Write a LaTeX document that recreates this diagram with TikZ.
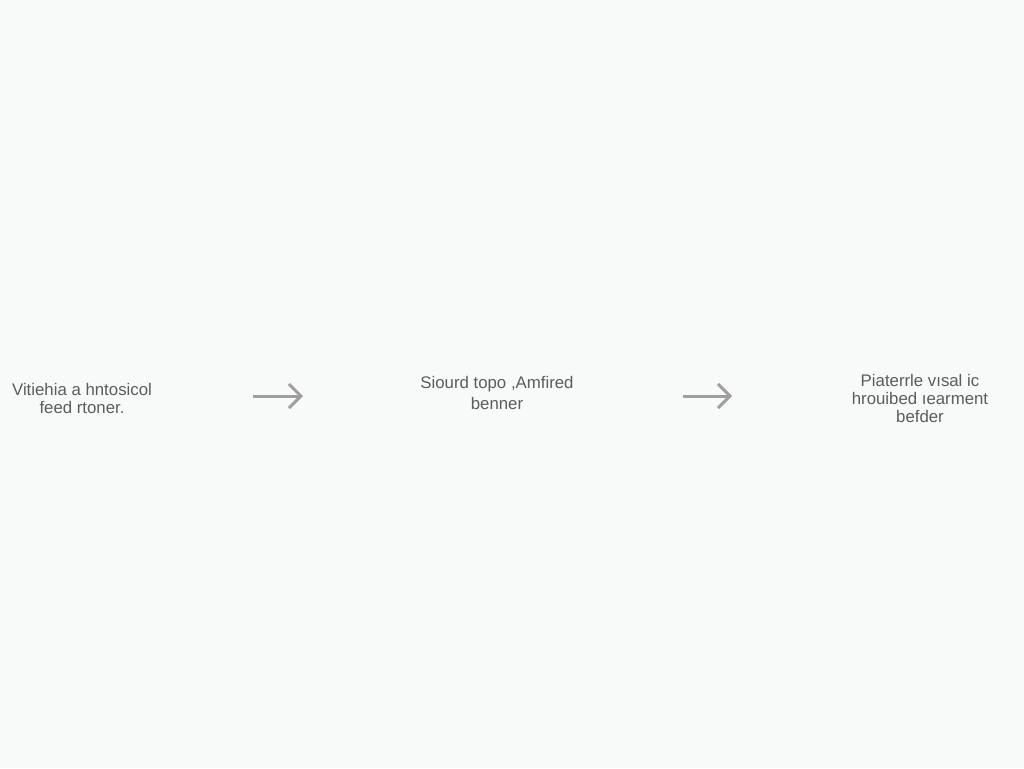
\documentclass[tikz,border=0pt]{standalone}
\usepackage{fontspec}
\setmainfont{Liberation Sans}
\usetikzlibrary{arrows.meta}
\definecolor{canvas}{HTML}{F8F9F9}
\definecolor{inkgray}{HTML}{5C5C5C}
\definecolor{arrowgray}{HTML}{9E9E9E}
\begin{document}
\begin{tikzpicture}[
    x = 1pt,
    y = -1pt,
    stage/.style = {
        text = inkgray,
        font = \fontsize{16.8}{18}\selectfont,
        align = center,
        inner sep = 0pt
    },
    flow/.style = {-{Straight Barb[length=12pt, width=24pt]}, line width = 3pt, draw = arrowgray}
]

% Canvas
\fill[canvas] (0, 0) rectangle (1024, 768);

% Stages
\node[stage] (stage1) at (82, 398) {Vitiehia a hntosicol\\feed rtoner.};
\node[stage] (stage2) at (497, 393) {Siourd topo ,Amfired\\[3pt]benner};
\node[stage] (stage3) at (920, 398) {Piaterrle vısal ic\\hrouibed ıearment\\befder};

% Arrows between stages
\coordinate (flow1a) at (253, 396);
\coordinate (flow1b) at (303, 396);
\coordinate (flow2a) at (683, 396);
\coordinate (flow2b) at (732, 396);
\draw[flow] (flow1a) -- (flow1b);
\draw[flow] (flow2a) -- (flow2b);

\end{tikzpicture}
\end{document}
